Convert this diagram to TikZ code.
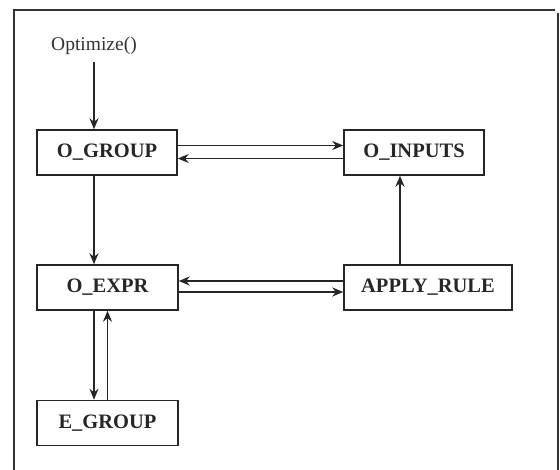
\documentclass[tikz,border=0pt]{standalone}
\usepackage{fontspec}
\setmainfont{Liberation Serif}
\usetikzlibrary{arrows.meta}
\begin{document}
\begin{tikzpicture}[x=1pt,y=-1pt,
  box/.style={draw=black!85, line width=1.5pt, minimum height=45pt, inner sep=0pt, font=\bfseries\fontsize{20.5}{22}\selectfont, text=black!85},
  conn/.style={draw=black!85, line width=1.5pt, -{Stealth[length=11pt,width=9pt]}},
  frame/.style={draw=black!80, line width=2pt}]
\useasboundingbox (0,0) rectangle (560,470);
\draw[frame] (14,470) -- (14,10) -- (555,10);
\draw[frame] (558,13) -- (558,470);
\node[font=\fontsize{19.5}{21}\selectfont, text=black!80] (opt) at (94,46) {Optimize()};
\node[box, minimum width=140pt] (og) at (107,152.5) {O\_GROUP};
\node[box, minimum width=140pt] (oi) at (414,152.5) {O\_INPUTS};
\node[box, minimum width=141pt] (oe) at (107.5,287.5) {O\_EXPR};
\node[box, minimum width=168pt] (ar) at (428,287.5) {APPLY\_RULE};
\node[box, minimum width=141pt] (eg) at (107.5,423) {E\_GROUP};
\draw[conn, shorten <=4pt] (opt.south) -- (og.north -| opt.south);
\draw[conn] ([yshift=7pt]og.east) -- ([yshift=7pt]oi.west);
\draw[conn] ([yshift=-6pt]oi.west) -- ([yshift=-6pt]og.east);
\draw[conn] ([xshift=-13pt]og.south) -- ([xshift=-13.5pt]oe.north);
\draw[conn] ([xshift=-28pt]ar.north) -- ([xshift=-14pt]oi.south);
\draw[conn] ([yshift=6.5pt]ar.west) -- ([yshift=6.5pt]oe.east);
\draw[conn] ([yshift=-4.5pt]oe.east) -- ([yshift=-4.5pt]ar.west);
\draw[conn] ([xshift=-13.5pt]oe.south) -- ([xshift=-13.5pt]eg.north);
\draw[conn] (eg.north) -- (oe.south);
\end{tikzpicture}
\end{document}
